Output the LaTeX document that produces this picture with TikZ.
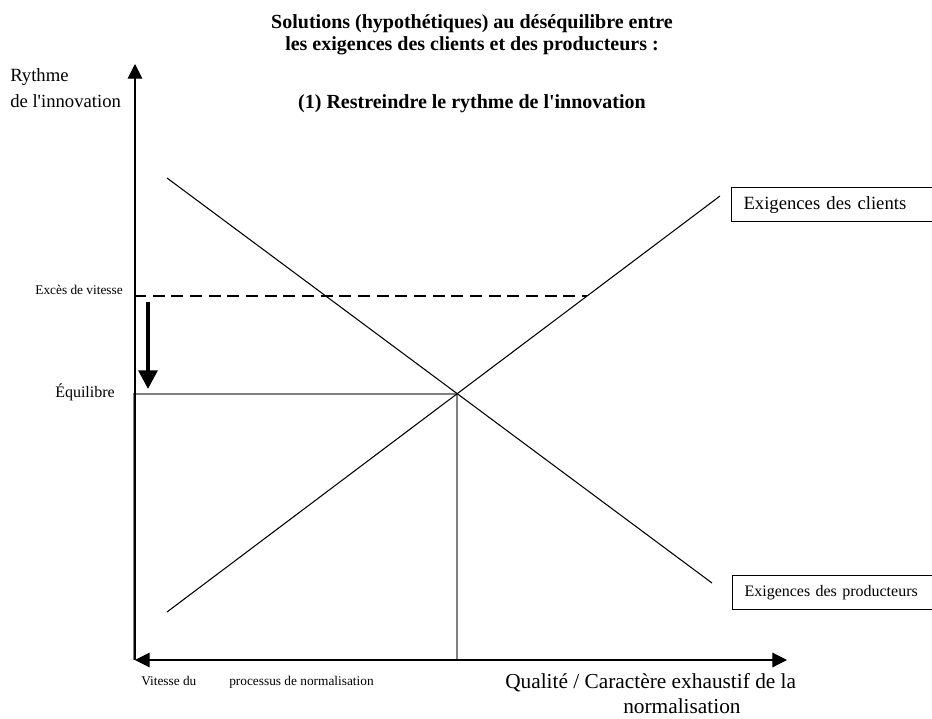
\documentclass[tikz,border=0pt]{standalone}
\usepackage{fontspec}
\setmainfont{Liberation Serif}[Ligatures=TeXOff]
\usetikzlibrary{arrows.meta}
\tikzset{
  axtip/.tip={Triangle[length=11pt,width=11pt]},
  bigtip/.tip={Triangle[length=14pt,width=14pt]}
}
\begin{document}
\begin{tikzpicture}[x=0.75pt,y=-0.75pt,
  lbl/.style={inner sep=0pt, font=\fontsize{14}{16}\selectfont},
  smalllbl/.style={inner sep=0pt, font=\fontsize{10}{12}\selectfont},
  midlbl/.style={inner sep=0pt, font=\fontsize{12}{14}\selectfont},
  biglbl/.style={inner sep=0pt, font=\fontsize{16}{18}\selectfont},
  ttl/.style={inner sep=0pt, font=\bfseries\fontsize{15}{17}\selectfont},
  curve/.style={line width=0.8pt},
  axis/.style={line width=0.8pt},
  guide/.style={draw=black!50, line width=1.1pt},
  legendbox/.style={draw, line width=0.8pt, anchor=north west, inner xsep=9pt,
    inner ysep=0pt, align=left, text width=160pt, minimum height=25.5pt,
    font=\fontsize{14}{16}\selectfont}
]
\useasboundingbox (0,0) rectangle (932,718);

% key points
\coordinate (O) at (135,660);
\coordinate (ytop) at (135,64);
\coordinate (xend) at (787,660);
\coordinate (eq) at (457,394);
\coordinate (c0) at (167,612);
\coordinate (c1) at (720,196);
\coordinate (p0) at (167,178);
\coordinate (p1) at (712,583);

% equilibrium box
\coordinate (g0) at (134,660);
\coordinate (g1) at (134,394);
\coordinate (g2) at (457,660);
\draw[guide] (g0) -- (g1) -- (eq) -- (g2);

% axes
\draw[axis,-{axtip}] (O) -- (ytop);
\draw[axis,{axtip}-{axtip}] (O) -- (xend);

% demand curves
\draw[curve] (c0) -- (c1);
\draw[curve] (p0) -- (p1);

% excess speed and its correction
\coordinate (ex0) at (134,296);
\coordinate (ex1) at (587,296);
\draw[line width=2.2pt, dash pattern=on 9pt off 5pt] (ex0) -- (ex1);
\coordinate (a0) at (148,302);
\coordinate (a1) at (148,389);
\draw[line width=3pt,-{bigtip}] (a0) -- (a1);

% legend boxes
\node[legendbox] (clients) at (731,187) {Exigences des clients};
\node[legendbox, font=\fontsize{12}{14}\selectfont] (prod) at (732,575) {Exigences des producteurs};

% title
\node[ttl,anchor=base] (t1) at (472,28) {Solutions (hypothétiques) au déséquilibre entre};
\node[ttl,anchor=base] (t2) at (472,50) {les exigences des clients et des producteurs :};
\node[ttl,anchor=base] (t3) at (472,108) {(1) Restreindre le rythme de l'innovation};

% axis labels
\node[lbl,anchor=base west] (r1) at (10,81) {Rythme};
\node[lbl,anchor=base west] (r2) at (10,107) {de l'innovation};
\node[smalllbl,anchor=base east] (exl) at (123,294) {Excès de vitesse};
\node[midlbl,anchor=base west] (eql) at (55,397) {Équilibre};
\node[smalllbl,anchor=base west] (v1) at (141,685) {Vitesse du};
\node[smalllbl,anchor=base west] (v2) at (229,685) {processus de normalisation};
\node[biglbl,anchor=base west] (q1) at (505,688) {Qualité / Caractère exhaustif de la};
\node[biglbl,anchor=base west] (q2) at (623,713) {normalisation};
\end{tikzpicture}
\end{document}
